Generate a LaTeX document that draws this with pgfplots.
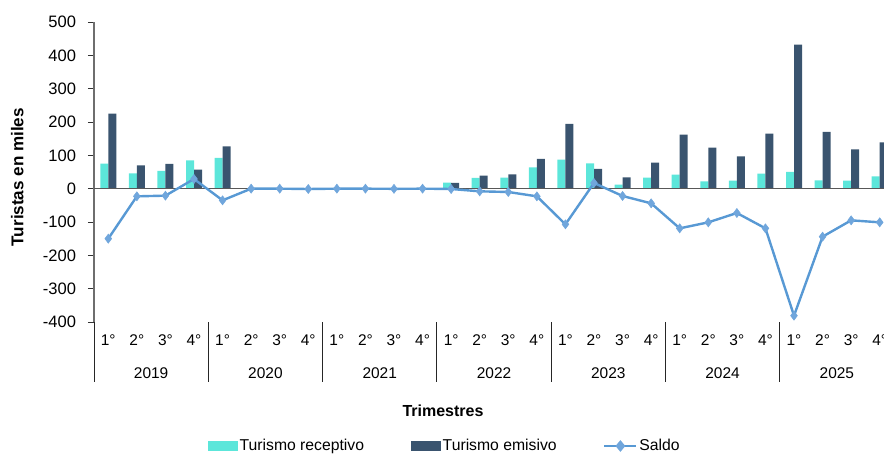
\documentclass[border=0pt]{standalone}
\usepackage{pgfplots}
\pgfplotsset{compat=1.18}
\usepackage{fontspec}
\setmainfont{Liberation Sans}
\definecolor{recep}{RGB}{92,230,218}
\definecolor{emis}{RGB}{58,84,111}
\definecolor{saldo}{RGB}{88,153,212}
\definecolor{saldomk}{RGB}{112,166,220}
\definecolor{axgray}{RGB}{110,110,110}

\pgfplotstableread{
x  rec  emi  sal
0  75   225  -150
1  46   70   -23
2  53   74   -21
3  85   57   29
4  92   127  -35
5  0.5  0.5  0
6  0.3  0.3  0
7  0.3  0.8  -1
8  0.3  0.3  0
9  0.3  0.3  0
10 0.3  0.5  -0.5
11 0.5  0.5  0
12 18   17   -1
13 32   39   -8
14 33   43   -10
15 64   89   -23
16 87   194  -107
17 76   59   17
18 12   34   -22
19 33   78   -44
20 42   162  -119
21 22   123  -101
22 24   97   -73
23 45   165  -119
24 50   432  -381
25 25   170  -144
26 24   118  -95
27 37   139  -101
}\datatable

\begin{document}
\begin{tikzpicture}
\begin{axis}[
    name=ax, at={(0,0)}, anchor=south west,
    scale only axis, width=600pt, height=225pt,
    clip=false,
    xmin=-0.5, xmax=27.5, ymin=-400, ymax=500,
    axis lines*=left,
    x axis line style={draw=none},
    y axis line style={axgray, line width=0.8pt},
    xtick={0,...,27},
    xticklabels={1°,2°,3°,4°,1°,2°,3°,4°,1°,2°,3°,4°,1°,2°,3°,4°,1°,2°,3°,4°,1°,2°,3°,4°,1°,2°,3°,4°},
    xtick style={draw=none},
    xticklabel style={anchor=center, yshift=-9pt, font=\fontsize{11.6}{14}\selectfont},
    ytick={-400,-300,...,500},
    ytick style={black!80, line width=0.6pt},
    tick align=outside, major tick length=4.5pt,
    yticklabel style={xshift=-5.5pt, font=\fontsize{12.4}{14}\selectfont},
    /pgf/number format/assume math mode=true,
    /pgf/number format/set thousands separator={},
    ylabel={Turistas en miles},
    ylabel style={at={(axis description cs:-0.096,0.483)}, anchor=center, font=\bfseries\fontsize{12.8}{14}\selectfont},
    legend style={at={(axis description cs:0,0)}, xshift=263pt, yshift=-93pt, anchor=center,
        draw=none, fill=none, legend columns=3,
        font=\fontsize{11.8}{14}\selectfont,
        nodes={inner sep=1.5pt},
        /tikz/every even column/.append style={column sep=33.5pt}},
]
\addplot[ybar, bar width=6pt, bar shift=-3pt, fill=recep, draw=none,
    legend image code/.code={\fill[recep] (0pt,-3.4pt) rectangle (22.5pt,3.4pt);}]
    table[x=x, y=rec] {\datatable};
\addlegendentry{Turismo receptivo}
\addplot[ybar, bar width=6pt, bar shift=3pt, fill=emis, draw=none,
    legend image code/.code={\fill[emis] (0pt,-3.4pt) rectangle (22.5pt,3.4pt);}]
    table[x=x, y=emi] {\datatable};
\addlegendentry{Turismo emisivo}
\addplot[forget plot, axgray!80!black, line width=1pt] coordinates {(-0.5,0) (27.5,0)};
\addplot[saldo, line width=1.8pt, mark=diamond*, mark size=3.4pt,
    mark options={fill=saldomk, draw=saldomk, line width=0.4pt},
    legend image code/.code={\draw[saldo, line width=1.6pt] (0pt,0pt) -- (24pt,0pt);
        \fill[saldomk] (12pt,-3pt) -- (14.5pt,0pt) -- (12pt,3pt) -- (9.5pt,0pt) -- cycle;}]
    table[x=x, y=sal] {\datatable};
\addlegendentry{Saldo}
% separadores de años
\foreach \s in {-0.5,3.5,7.5,11.5,15.5,19.5,23.5} {
    \edef\tmp{\noexpand\draw[black!85, line width=0.7pt] (axis cs:\s,-400) -- ++(0pt,-45pt);}
    \tmp
}
\foreach \yr [count=\i from 0] in {2019,2020,2021,2022,2023,2024,2025} {
    \edef\tmp{\noexpand\node[font=\noexpand\fontsize{11.6}{14}\noexpand\selectfont] at (axis cs:\i*4+1.5,-400) [yshift=-38.25pt] {\yr};}
    \tmp
}
\node[font=\bfseries\fontsize{12}{14}\selectfont] at (axis description cs:0,0) [xshift=261.75pt, yshift=-66.75pt] {Trimestres};
\end{axis}
\pgfresetboundingbox
\path[use as bounding box] (-70.5pt,-100.5pt) rectangle (592.5pt,241.5pt);
\end{tikzpicture}
\end{document}
